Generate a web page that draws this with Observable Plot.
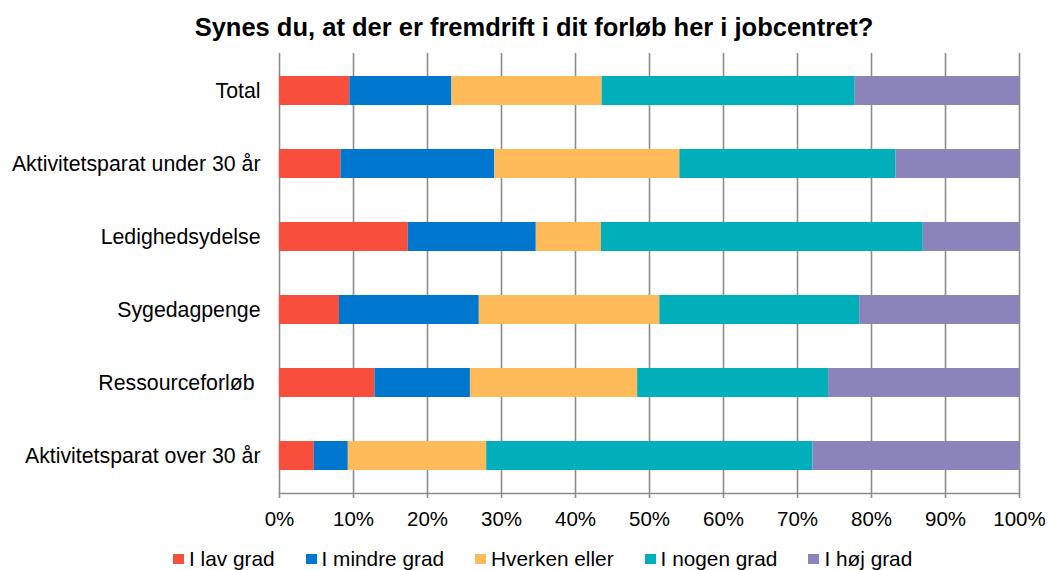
<!DOCTYPE html>
<html><head><meta charset="utf-8">
<script src="https://cdn.jsdelivr.net/npm/d3@7"></script>
<script src="https://cdn.jsdelivr.net/npm/@observablehq/plot@0.6"></script>
<style>
body{margin:0;background:#fff;font-family:Arial,"Liberation Sans",sans-serif;}
#wrap{position:relative;width:1048px;height:570px;overflow:hidden;}
#chart{position:absolute;left:0;top:0;}
#title{position:absolute;left:0;width:1068px;top:15px;text-align:center;font-weight:bold;font-size:25.5px;line-height:25px;color:#000;}
#legend{position:absolute;left:173px;top:548px;display:flex;gap:31px;font-size:20.8px;line-height:21px;color:#000;}
.item{display:flex;align-items:center;}
.sw{width:11px;height:10px;margin-right:5px;margin-top:1px;}
</style></head><body>
<div id="wrap"><div id="chart"></div><div id="title">Synes du, at der er fremdrift i dit forløb her i jobcentret?</div><div id="legend"></div></div>
<script>
const categories = ["Total","Aktivitetsparat under 30 år","Ledighedsydelse","Sygedagpenge","Ressourceforløb\u00A0","Aktivitetsparat over 30 år"];
const series = ["I lav grad","I mindre grad","Hverken eller","I nogen grad","I høj grad"];
const colors = ["#F84E3C","#0077CE","#FFBA59","#00AFBA","#8A84BA"];
const lavGrad     = [9.5, 8.3, 17.4, 8.1, 12.9, 4.7];
const mindreGrad  = [13.8, 20.8, 17.3, 18.9, 12.9, 4.6];
const hverken     = [20.3, 25.0, 8.8, 24.4, 22.6, 18.7];
const nogenGrad   = [34.2, 29.2, 43.5, 27.0, 25.8, 44.1];
const hoejGrad    = [22.2, 16.7, 13.0, 21.6, 25.8, 27.9];
const xTicks = [0,10,20,30,40,50,60,70,80,90,100];

const seriesValues = [lavGrad, mindreGrad, hverken, nogenGrad, hoejGrad];
const data = [];
categories.forEach((c, i) => series.forEach((s, j) => data.push({category: c, series: s, value: seriesValues[j][i]})));

const gray = "#8c8c8c";
const chart = Plot.plot({
  width: 1048, height: 570,
  marginTop: 53, marginBottom: 77, marginLeft: 279, marginRight: 29,
  style: {fontFamily: "Arial, 'Liberation Sans', sans-serif", fontSize: "20.5px", color: "#000", background: "transparent"},
  x: {domain: [0, 100], axis: null},
  y: {domain: categories, paddingInner: 0.6, paddingOuter: 0.3, axis: null},
  color: {domain: series, range: colors},
  marks: [
    Plot.gridX(xTicks, {stroke: gray, strokeOpacity: 1, strokeWidth: 1.6}),
    Plot.barX(data, Plot.stackX({x: "value", y: "category", fill: "series", order: series, inset: 0})),
    Plot.frame({anchor: "bottom", stroke: gray, strokeWidth: 1.6}),
    Plot.axisX(xTicks, {tickSize: 5, tickPadding: 13, stroke: gray, strokeWidth: 1.6, fill: "#000", tickFormat: d => d + "%", label: null}),
    Plot.axisY({tickSize: 0, tickPadding: 19, fill: "#000", fontSize: 21.3, label: null})
  ]
});
document.getElementById("chart").appendChild(chart);

const legend = document.getElementById("legend");
series.forEach((s, i) => {
  const it = document.createElement("div"); it.className = "item";
  const sw = document.createElement("div"); sw.className = "sw"; sw.style.background = colors[i];
  const tx = document.createElement("span"); tx.textContent = s;
  it.appendChild(sw); it.appendChild(tx); legend.appendChild(it);
});
</script>
</body></html>
